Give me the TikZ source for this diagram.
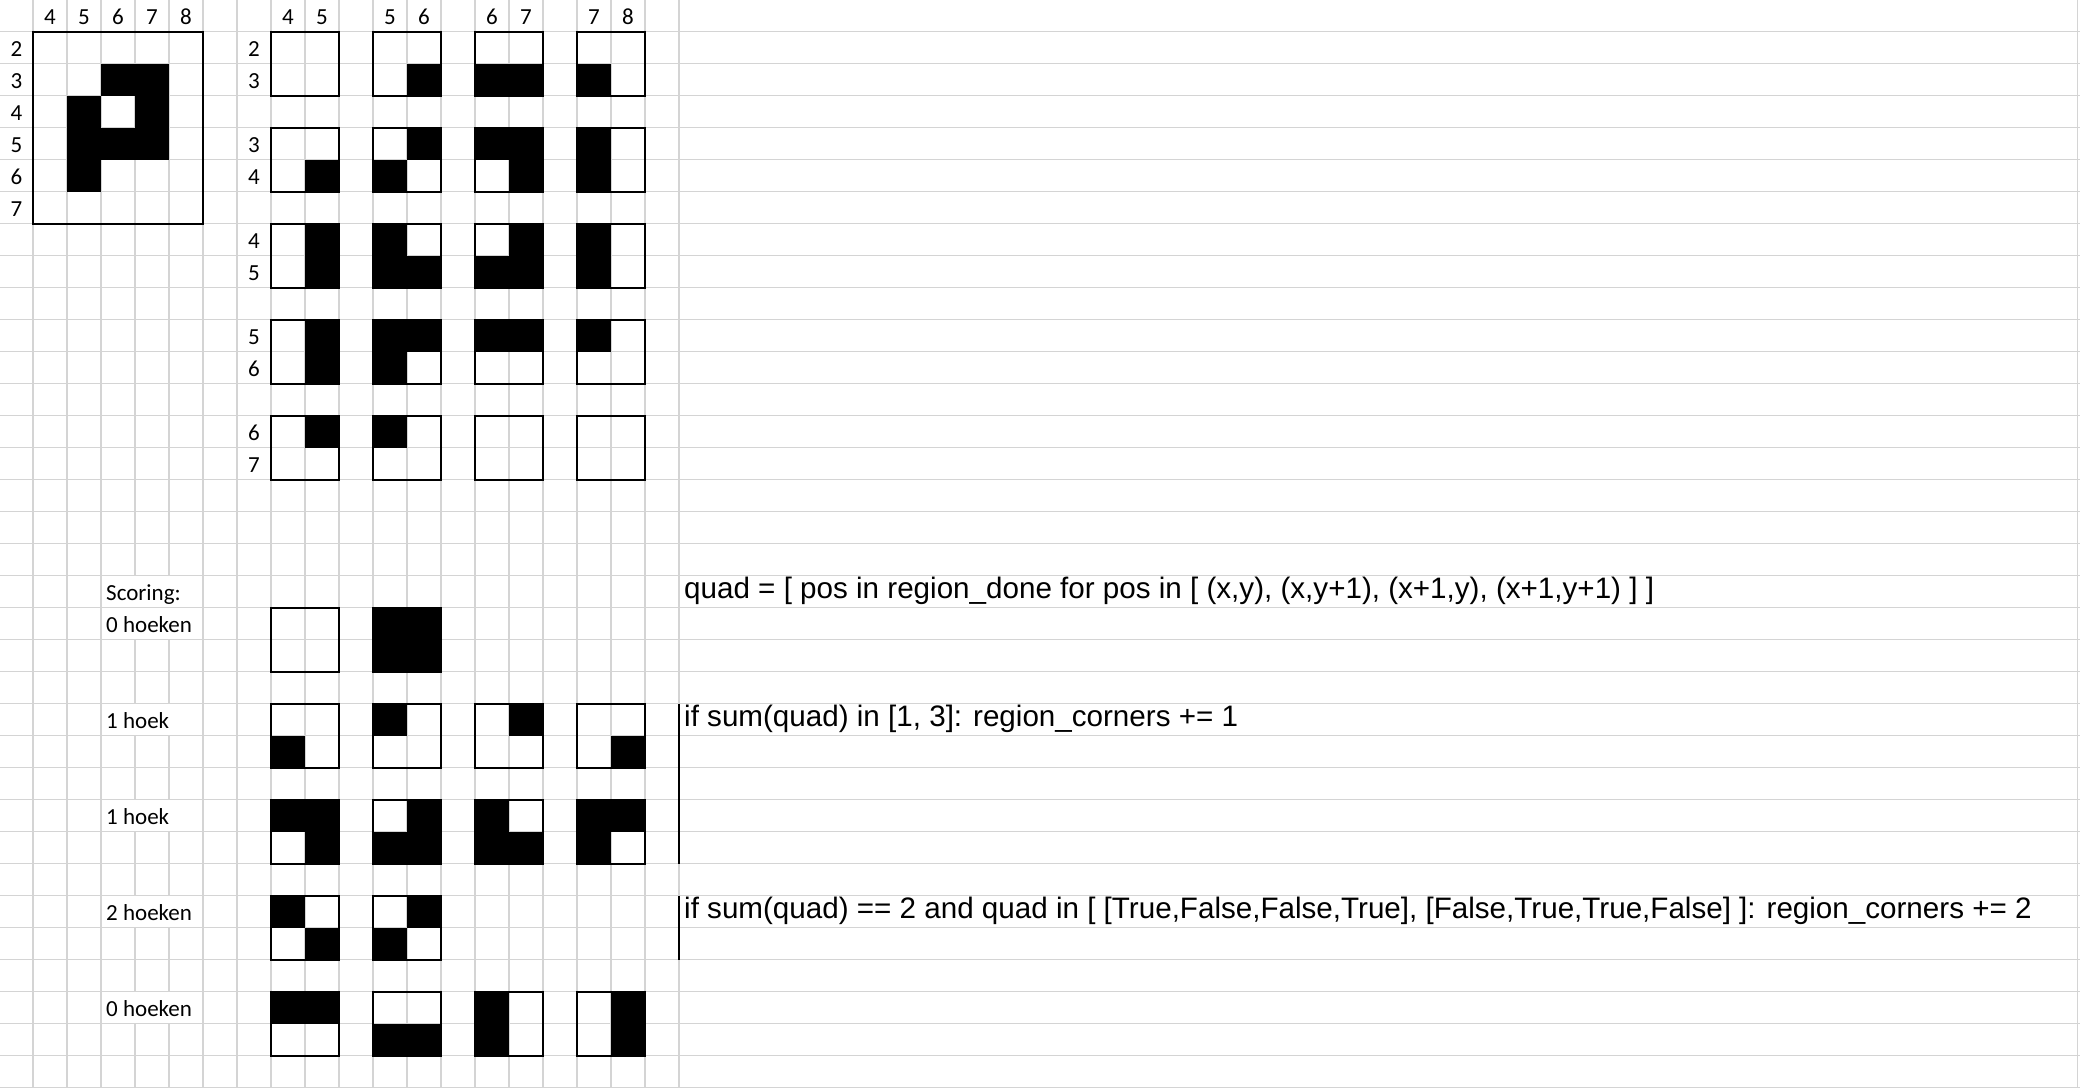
\documentclass[tikz,border=0pt]{standalone}
\usepackage{fontspec}
\newfontfamily\calib{Carlito}
\newfontfamily\arialf{Liberation Sans}
\definecolor{gridgray}{RGB}{212,212,212}
\tikzset{
  gridline/.style={draw=gridgray, line width=1.4pt},
  qborder/.style={draw=black, line width=2pt},
  sepline/.style={draw=black, line width=1.8pt},
  numlbl/.style={font=\calib\fontsize{23}{27}\selectfont, anchor=base, inner sep=0pt},
  leftlbl/.style={font=\calib\fontsize{23}{27}\selectfont, anchor=base west, inner sep=0pt},
  codelbl/.style={font=\arialf\fontsize{29.6}{34}\selectfont, anchor=base west, inner sep=0pt},
}
% cell fill: column c, row r
\newcommand{\cellfill}[2]{\fill[black] ({34*(#1)-1},{32*(#2)-0.5}) rectangle ({34*(#1)+33},{32*(#2)+31.5});}
% 2x2 box at column c, row r with TL TR BL BR flags
\newcommand{\qbox}[6]{%
  \ifnum#3=1 \cellfill{#1}{#2}\fi
  \ifnum#4=1 \cellfill{#1+1}{#2}\fi
  \ifnum#5=1 \cellfill{#1}{#2+1}\fi
  \ifnum#6=1 \cellfill{#1+1}{#2+1}\fi
  \draw[qborder] ({34*(#1)-1},{32*(#2)-0.5}) rectangle ({34*(#1)+67},{32*(#2)+63.5});
}
\begin{document}
\begin{tikzpicture}[x=1pt,y=-1pt]
\useasboundingbox (0,0) rectangle (2080,1088);
\fill[white] (0,0) rectangle (2080,1088);
% grid
\foreach \r in {1,...,34} \draw[gridline] (0,{32*\r-0.5}) -- (2080,{32*\r-0.5});
\foreach \c in {1,...,20} \draw[gridline] ({34*\c-1},0) -- ({34*\c-1},1088);
\draw[gridline] (2077.5,0) -- (2077.5,1088);
% hide vertical lines under overflowing labels
\foreach \r in {18,19,22,25,28,31} {
  \foreach \c in {4,5} \fill[white] ({34*\c-2.2},{32*\r+0.3}) rectangle ({34*\c+0.2},{32*\r+30.7});
}
% big P grid
\cellfill{3}{2}\cellfill{4}{2}
\cellfill{2}{3}\cellfill{4}{3}
\cellfill{2}{4}\cellfill{3}{4}\cellfill{4}{4}
\cellfill{2}{5}
\draw[qborder] (33,31.5) rectangle (203,223.5);
% top quads
\qbox{8}{1}{0}{0}{0}{0}\qbox{11}{1}{0}{0}{0}{1}\qbox{14}{1}{0}{0}{1}{1}\qbox{17}{1}{0}{0}{1}{0}
\qbox{8}{4}{0}{0}{0}{1}\qbox{11}{4}{0}{1}{1}{0}\qbox{14}{4}{1}{1}{0}{1}\qbox{17}{4}{1}{0}{1}{0}
\qbox{8}{7}{0}{1}{0}{1}\qbox{11}{7}{1}{0}{1}{1}\qbox{14}{7}{0}{1}{1}{1}\qbox{17}{7}{1}{0}{1}{0}
\qbox{8}{10}{0}{1}{0}{1}\qbox{11}{10}{1}{1}{1}{0}\qbox{14}{10}{1}{1}{0}{0}\qbox{17}{10}{1}{0}{0}{0}
\qbox{8}{13}{0}{1}{0}{0}\qbox{11}{13}{1}{0}{0}{0}\qbox{14}{13}{0}{0}{0}{0}\qbox{17}{13}{0}{0}{0}{0}
% scoring quads
\qbox{8}{19}{0}{0}{0}{0}\qbox{11}{19}{1}{1}{1}{1}
\qbox{8}{22}{0}{0}{1}{0}\qbox{11}{22}{1}{0}{0}{0}\qbox{14}{22}{0}{1}{0}{0}\qbox{17}{22}{0}{0}{0}{1}
\qbox{8}{25}{1}{1}{0}{1}\qbox{11}{25}{0}{1}{1}{1}\qbox{14}{25}{1}{0}{1}{1}\qbox{17}{25}{1}{1}{1}{0}
\qbox{8}{28}{1}{0}{0}{1}\qbox{11}{28}{0}{1}{1}{0}
\qbox{8}{31}{1}{1}{0}{0}\qbox{11}{31}{0}{0}{1}{1}\qbox{14}{31}{1}{0}{1}{0}\qbox{17}{31}{0}{1}{0}{1}
% black separator lines
\coordinate (s1a) at (679,703.5); \coordinate (s1b) at (679,863.5);
\coordinate (s2a) at (679,895.5); \coordinate (s2b) at (679,959.5);
\draw[sepline] (s1a) -- (s1b);
\draw[sepline] (s2a) -- (s2b);
% header numbers
\foreach \c/\t in {1/4,2/5,3/6,4/7,5/8,8/4,9/5,11/5,12/6,14/6,15/7,17/7,18/8}
  \node[numlbl] (hd\c) at ({34*\c+16},24) {\t};
% row labels
\foreach \r/\t in {1/2,2/3,3/4,4/5,5/6,6/7}
  \node[numlbl] (ra\r) at (16.5,{32*\r+24}) {\t};
\foreach \r/\t in {1/2,2/3,4/3,5/4,7/4,8/5,10/5,11/6,13/6,14/7}
  \node[numlbl] (rb\r) at (254,{32*\r+24}) {\t};
% scoring labels
\node[leftlbl] (sc) at (106,{32*18+24}) {Scoring:};
\node[leftlbl] (l0a) at (106,{32*19+24}) {0 hoeken};
\node[leftlbl] (l1a) at (106,{32*22+24}) {1 hoek};
\node[leftlbl] (l1b) at (106,{32*25+24}) {1 hoek};
\node[leftlbl] (l2) at (106,{32*28+24}) {2 hoeken};
\node[leftlbl] (l0b) at (106,{32*31+24}) {0 hoeken};
% code lines
\node[codelbl] (code1) at (684,{32*18+22.5}) {quad = [ pos in region\_done for pos in [ (x,y), (x,y+1), (x+1,y), (x+1,y+1) ] ]};
\node[codelbl] (code2) at (684,{32*22+22.5}) {if sum(quad) in [1, 3]: region\_corners += 1};
\node[codelbl] (code3) at (684,{32*28+22.5}) {if sum(quad) == 2 and quad in [ [True,False,False,True], [False,True,True,False] ]: region\_corners += 2};
\end{tikzpicture}
\end{document}
